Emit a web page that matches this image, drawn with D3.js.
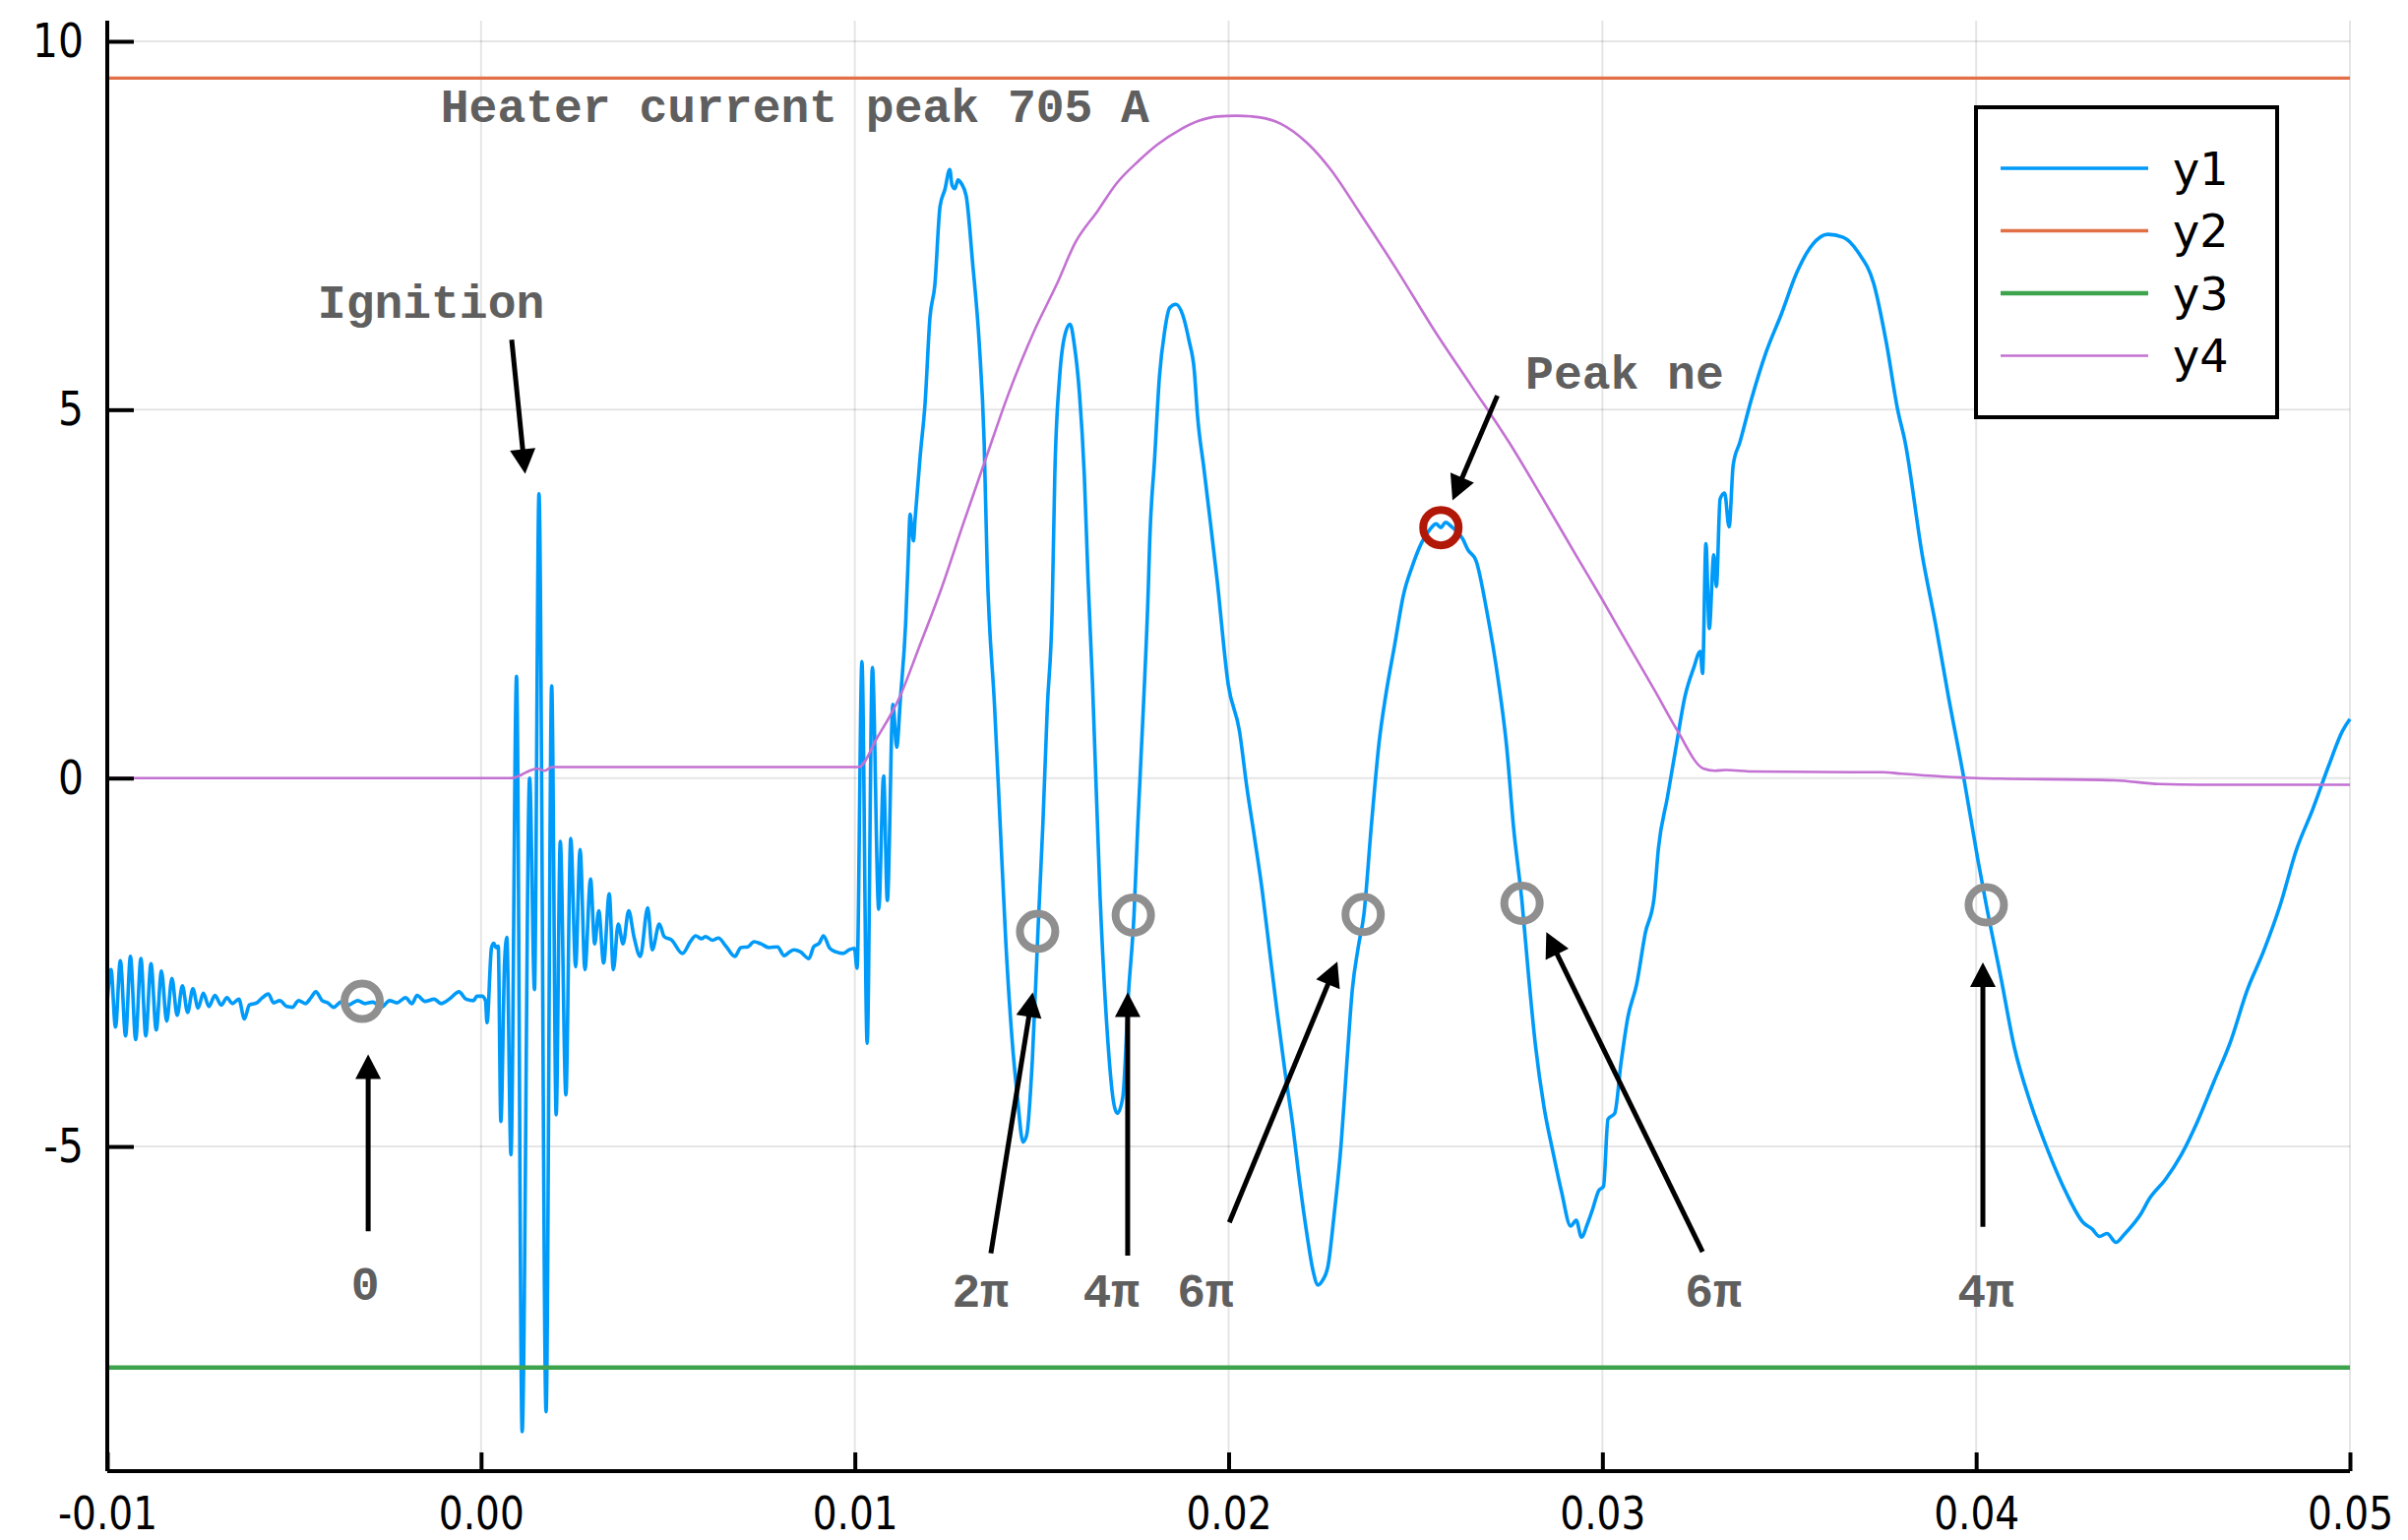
<!DOCTYPE html>
<html>
<head>
<meta charset="utf-8">
<script src="https://cdn.jsdelivr.net/npm/d3@7"></script>
<style>
  html, body { margin: 0; padding: 0; background: #fff; }
  svg { display: block; }
</style>
</head>
<body>
<svg id="chart" width="2447" height="1565"></svg>
<script>
// ---- data -------------------------------------------------------------
// y1: probe signal (time in s, value)
const tY1 = [
  -0.01000,-0.00990,-0.00978,-0.00965,-0.00951,-0.00938,-0.00924,-0.00910,-0.00897,-0.00883,
  -0.00869,-0.00855,-0.00841,-0.00827,-0.00813,-0.00799,-0.00785,-0.00771,-0.00757,-0.00743,
  -0.00728,-0.00712,-0.00695,-0.00680,-0.00665,-0.00648,-0.00633,-0.00620,-0.00600,-0.00585,
  -0.00569,-0.00555,-0.00538,-0.00520,-0.00505,-0.00488,-0.00470,-0.00455,-0.00442,-0.00425,
  -0.00410,-0.00394,-0.00375,-0.00355,-0.00330,-0.00310,-0.00290,-0.00266,-0.00245,-0.00225,
  -0.00202,-0.00185,-0.00171,-0.00150,-0.00125,-0.00107,-0.00085,-0.00059,-0.00040,-0.00020,
  -0.00011, 0.00003,
  0.00012,0.00016,0.00028,0.00034,0.00040,0.00046,0.00053,0.00063,0.00069,0.00080,
  0.00095,0.00110,0.00130,0.00143,0.00155,0.00174,0.00189,0.00201,0.00212,0.00227,
  0.00240,0.00253,0.00265,0.00278,0.00293,0.00304,0.00315,0.00328,0.00343,0.00354,
  0.00367,0.00380,0.00395,0.00409,0.00426,0.00446,0.00458,0.00477,0.00490,0.00510,
  0.00539,0.00560,0.00574,0.00590,0.00600,0.00620,0.00635,0.00655,0.00679,0.00695,
  0.00714,0.00730,0.00749,0.00770,0.00793,0.00811,0.00825,0.00837,0.00855,0.00877,
  0.00890,0.00905,0.00916,0.00933,0.00950,0.00969,0.00985,0.00999,
  0.01006,0.01019,0.01033,0.01047,0.01064,0.01077,0.01087,0.01102,0.01112,0.01122,
  0.01136,0.01143,0.01148,0.01153,0.01157,0.01161,0.01175,0.01188,0.01201,0.01214,
  0.01228,0.01241,0.01254,0.01260,0.01268,0.01276,0.01285,0.01298,0.01315,0.01333,
  0.01346,0.01354,0.01374,0.01389,0.01404,0.01420,0.01435,0.01450,0.01460,0.01475,
  0.01490,0.01503,0.01515,0.01528,0.01535,0.01548,0.01565,0.01576,0.01587,0.01601,
  0.01614,0.01624,0.01636,0.01656,0.01676,0.01692,0.01702,0.01717,0.01732,0.01747,
  0.01757,0.01772,0.01785,0.01789,0.01802,0.01815,0.01829,0.01842,0.01859,0.01877,
  0.01894,0.01908,0.01917,0.01934,0.01952,0.01969,0.01999,0.02029,0.02049,0.02070,
  0.02090,0.02110,0.02130,0.02150,0.02170,0.02190,0.02211,0.02226,0.02239,0.02251,
  0.02266,0.02281,0.02301,0.02317,0.02331,0.02347,0.02362,0.02382,0.02403,0.02420,
  0.02444,0.02468,0.02491,0.02515,0.02538,0.02555,0.02568,0.02580,0.02597,0.02610,
  0.02626,0.02640,0.02662,0.02691,0.02721,0.02744,0.02762,0.02785,0.02803,0.02821,
  0.02844,0.02868,0.02891,0.02915,0.02930,0.02944,0.02960,0.02974,0.02990,0.03003,
  0.03015,0.03033,0.03050,0.03068,0.03092,0.03115,0.03138,0.03150,0.03174,0.03197,
  0.03221,0.03244,0.03262,0.03268,0.03277,0.03286,0.03298,0.03305,0.03315,0.03327,
  0.03339,0.03350,0.03368,0.03397,0.03438,0.03479,0.03520,0.03562,0.03603,0.03644,
  0.03685,0.03726,0.03760,0.03790,0.03810,0.03856,0.03891,0.03926,0.03966,0.04005,
  0.04027,0.04067,0.04102,0.04146,0.04190,0.04242,0.04286,0.04310,0.04330,0.04350,
  0.04374,0.04395,0.04418,0.04440,0.04462,0.04506,0.04549,0.04593,0.04637,0.04681,
  0.04725,0.04769,0.04813,0.04857,0.04900,0.04944,0.04980,0.05000
];
const vY1 = [
  -3.05,-2.60,-3.38,-2.48,-3.50,-2.42,-3.55,-2.45,-3.50,-2.52,
  -3.42,-2.62,-3.30,-2.72,-3.22,-2.82,-3.18,-2.86,-3.12,-2.92,
  -3.10,-2.95,-3.08,-2.98,-3.06,-3.00,-3.27,-3.08,-3.05,-2.98,
  -2.93,-3.05,-3.02,-3.10,-3.11,-3.02,-3.06,-2.98,-2.90,-3.02,
  -3.05,-3.11,-3.04,-3.08,-3.02,-3.06,-3.04,-3.11,-3.02,-3.05,
  -2.98,-3.06,-2.95,-3.03,-3.00,-3.06,-3.00,-2.90,-3.00,-3.02,
  -2.96,-2.96,
  -3.02,-3.32,-2.30,-2.24,-2.30,-2.28,-4.66,-2.50,-2.16,-5.11,
  1.38,-8.87,0.00,-2.87,3.86,-8.60,1.25,-4.57,-0.86,-4.30,
  -0.82,-2.56,-0.97,-2.60,-1.37,-2.25,-1.80,-2.51,-1.57,-2.60,
  -1.98,-2.25,-1.80,-2.15,-2.42,-1.76,-2.33,-1.98,-2.15,-2.20,
  -2.38,-2.22,-2.14,-2.18,-2.15,-2.20,-2.17,-2.28,-2.42,-2.30,
  -2.29,-2.22,-2.25,-2.30,-2.29,-2.41,-2.36,-2.33,-2.36,-2.45,
  -2.29,-2.24,-2.14,-2.31,-2.36,-2.38,-2.33,-2.31,
  -2.58,1.58,-3.60,1.50,-1.78,0.03,-1.66,1.00,0.42,1.08,
  2.10,3.00,3.58,3.35,3.22,3.50,4.38,5.09,6.25,6.69,
  7.76,7.99,8.26,8.05,8.00,8.12,8.07,7.90,7.00,5.89,
  4.56,2.90,0.96,-0.64,-2.23,-3.50,-4.33,-4.94,-4.84,-3.82,
  -2.07,-0.64,0.96,2.30,4.11,5.45,6.07,6.16,5.89,5.22,
  4.11,2.70,1.27,-1.59,-3.50,-4.39,-4.55,-4.33,-2.93,-1.85,
  -0.64,0.96,2.55,3.22,4.33,5.45,6.07,6.38,6.43,6.29,
  5.94,5.54,4.91,4.20,3.44,2.70,1.27,0.64,-0.13,-0.83,
  -1.53,-2.36,-3.18,-3.95,-4.65,-5.48,-6.24,-6.69,-6.88,-6.82,
  -6.62,-5.99,-4.97,-3.82,-2.87,-2.29,-1.85,-0.64,0.50,1.11,
  1.80,2.49,2.87,3.18,3.37,3.45,3.40,3.47,3.41,3.35,
  3.25,3.10,2.95,2.26,1.34,0.42,-0.65,-1.68,-2.71,-3.63,
  -4.47,-5.08,-5.62,-6.08,-6.00,-6.23,-6.05,-5.85,-5.60,-5.54,
  -4.63,-4.55,-3.86,-3.25,-2.79,-2.10,-1.64,-0.95,-0.26,0.42,
  1.11,1.49,1.72,1.42,3.18,2.03,3.03,2.60,3.79,3.87,
  3.41,4.25,4.56,5.11,5.78,6.30,6.86,7.24,7.38,7.34,
  7.13,6.71,5.90,5.00,4.56,3.02,2.10,1.10,0.03,-1.12,
  -1.72,-2.73,-3.65,-4.42,-5.03,-5.64,-6.03,-6.12,-6.22,-6.18,
  -6.30,-6.20,-6.07,-5.92,-5.72,-5.45,-5.11,-4.65,-4.11,-3.57,
  -2.88,-2.35,-1.73,-0.97,-0.43,0.18,0.64,0.80
];

// y2 / y3: constant reference levels
const tFlat = [-0.01, 0.05];
const vY2 = [9.5, 9.5];
const vY3 = [-8.0, -8.0];

// y4: heater current (scaled)
const tY4 = [
  -0.0100,0.0005,0.0008,0.0011,0.0013,0.0015,0.0017,0.0019,0.0021,0.0101,
  0.0106,0.0112,0.0117,0.0123,0.0129,0.0135,0.0141,0.0148,0.0154,0.0159,
  0.0165,0.0170,0.0176,0.0181,0.0187,0.0192,0.0197,0.0202,0.0208,0.0214,
  0.0221,0.0227,0.0235,0.0245,0.0255,0.0265,0.0275,0.0284,0.0293,0.0300,
  0.0307,0.0314,0.0320,0.0327,0.0330,0.0333,0.0340,0.0368,0.0375,0.0380,
  0.0400,0.0437,0.0449,0.0460,0.0500
];
const vY4 = [
  0.00,0.00,0.00,0.05,0.10,0.13,0.10,0.15,0.15,0.15,
  0.55,1.10,1.75,2.55,3.45,4.33,5.20,6.07,6.70,7.27,
  7.70,8.07,8.38,8.60,8.80,8.92,8.98,8.99,8.97,8.88,
  8.62,8.28,7.68,6.90,6.08,5.32,4.56,3.80,3.02,2.42,
  1.80,1.19,0.65,0.13,0.10,0.11,0.09,0.08,0.08,0.06,
  0.00,-0.03,-0.08,-0.09,-0.09
];

const seriesNames  = ["y1", "y2", "y3", "y4"];
const seriesColors = ["#009af9", "#e26f46", "#3da44d", "#c371d2"];
const seriesWidths = [3.6, 3.4, 4.4, 2.6];

const xTicks = [-0.01, 0.00, 0.01, 0.02, 0.03, 0.04, 0.05];
const xTickLabels = ["-0.01", "0.00", "0.01", "0.02", "0.03", "0.04", "0.05"];
const yTicks = [-5, 0, 5, 10];
const yTickLabels = ["-5", "0", "5", "10"];

// phase markers on y1 (time, value, label)
const markT = [-0.00318, 0.01489, 0.01745, 0.02360, 0.02785, 0.04027];
const markV = [-3.03, -2.08, -1.86, -1.85, -1.70, -1.72];
const markLabels = ["0", "2π", "4π", "6π", "6π", "4π"];
const markLabelT = [-0.00310, 0.01336, 0.01686, 0.01938, 0.03297, 0.04026];
const markLabelV = [-7.08, -7.17, -7.17, -7.17, -7.17, -7.17];
// arrow tails and heads for each marker
const markArrowT0 = [-0.00302, 0.01364, 0.01730, 0.02002, 0.03268, 0.04018];
const markArrowV0 = [-6.15, -6.45, -6.48, -6.03, -6.43, -6.09];
const markArrowT1 = [-0.00302, 0.01476, 0.01730, 0.02291, 0.02850, 0.04018];
const markArrowV1 = [-3.75, -2.91, -2.91, -2.49, -2.09, -2.50];

// peak density marker
const peakT = 0.02568, peakV = 3.40;

// text notes with arrows
const noteText = ["Heater current peak 705 A", "Ignition", "Peak ne"];
const noteT = [-0.00108, -0.00437, 0.02794];
const noteV = [8.90, 6.25, 5.29];
const noteArrowT0 = [null, 0.00082, 0.02719];
const noteArrowV0 = [null, 5.95, 5.19];
const noteArrowT1 = [null, 0.00118, 0.02599];
const noteArrowV1 = [null, 4.13, 3.77];

// ---- drawing ----------------------------------------------------------
const svg = d3.select("#chart");
const W = 2447, H = 1565;
const plotL = 109, plotR = 2388, plotT = 21, plotB = 1495;

const x = d3.scaleLinear().domain([-0.01, 0.05]).range([plotL, plotR]);
const y = d3.scaleLinear().domain([-9.406, 10.28]).range([plotB, plotT]);

svg.append("rect").attr("width", W).attr("height", H).attr("fill", "#fff");

// grid
const grid = svg.append("g").attr("stroke", "#000").attr("stroke-opacity", 0.1).attr("stroke-width", 2);
grid.selectAll("line.gx").data(xTicks).join("line")
  .attr("x1", d => x(d)).attr("x2", d => x(d)).attr("y1", plotT).attr("y2", plotB);
grid.selectAll("line.gy").data(yTicks).join("line")
  .attr("x1", plotL).attr("x2", plotR).attr("y1", d => y(d)).attr("y2", d => y(d));

// series
const zip = (a, b) => a.map((v, i) => [v, b[i]]);
const seriesData = [zip(tY1, vY1), zip(tFlat, vY2), zip(tFlat, vY3), zip(tY4, vY4)];
const smooth = d3.line().x(d => x(d[0])).y(d => y(d[1])).curve(d3.curveMonotoneX);
svg.append("g").selectAll("path").data(seriesData).join("path")
  .attr("d", smooth)
  .attr("fill", "none")
  .attr("stroke", (d, i) => seriesColors[i])
  .attr("stroke-width", (d, i) => seriesWidths[i])
  .attr("stroke-linejoin", "round");

// axes
const xAxis = d3.axisBottom(x).tickValues(xTicks).tickFormat((d, i) => xTickLabels[i])
  .tickSizeInner(-19).tickSizeOuter(0).tickPadding(26);
const yAxis = d3.axisLeft(y).tickValues(yTicks).tickFormat((d, i) => yTickLabels[i])
  .tickSizeInner(-27).tickSizeOuter(0).tickPadding(24);

const gx = svg.append("g").attr("transform", `translate(0,${plotB})`).call(xAxis);
const gy = svg.append("g").attr("transform", `translate(${plotL},0)`).call(yAxis);
[gx, gy].forEach(g => {
  g.select(".domain").attr("stroke", "#000").attr("stroke-width", 4);
  g.selectAll(".tick line").attr("stroke", "#000").attr("stroke-width", 4);
  g.selectAll(".tick text").attr("fill", "#000")
    .style("font-family", "'DejaVu Sans', sans-serif");
});
gx.selectAll(".tick text").style("font-size", "46px");
gy.selectAll(".tick text").style("font-size", "48px");
gy.select(".domain").attr("d", `M0,${plotT}V${plotB}`);
gx.select(".domain").attr("d", `M${plotL},0H${plotR}`);
// narrow tick labels
svg.selectAll(".tick text").each(function () {
  const w = this.getComputedTextLength();
  d3.select(this).attr("textLength", w * 0.85).attr("lengthAdjust", "spacingAndGlyphs");
});

// arrows
const ann = svg.append("g");
function arrow(t0, v0, t1, v1) {
  const x0 = x(t0), y0 = y(v0), x1 = x(t1), y1 = y(v1);
  const dx = x1 - x0, dy = y1 - y0, len = Math.hypot(dx, dy);
  const ux = dx / len, uy = dy / len;
  const hl = 25, hw = 13;
  const bx = x1 - ux * hl, by = y1 - uy * hl;
  ann.append("line").attr("x1", x0).attr("y1", y0).attr("x2", bx + ux * 2).attr("y2", by + uy * 2)
    .attr("stroke", "#000").attr("stroke-width", 5);
  ann.append("path")
    .attr("d", `M${x1},${y1}L${bx - uy * hw},${by + ux * hw}L${bx + uy * hw},${by - ux * hw}Z`)
    .attr("fill", "#000");
}

markT.forEach((t, i) => arrow(markArrowT0[i], markArrowV0[i], markArrowT1[i], markArrowV1[i]));
noteText.forEach((s, i) => { if (noteArrowT0[i] !== null) arrow(noteArrowT0[i], noteArrowV0[i], noteArrowT1[i], noteArrowV1[i]); });

// marker rings
ann.selectAll("circle.mark").data(markT).join("circle")
  .attr("cx", (d) => x(d)).attr("cy", (d, i) => y(markV[i])).attr("r", 18)
  .attr("fill", "none").attr("stroke", "#8f8f8f").attr("stroke-width", 8);
ann.append("circle").attr("cx", x(peakT)).attr("cy", y(peakV)).attr("r", 18)
  .attr("fill", "none").attr("stroke", "#b21807").attr("stroke-width", 8);

// annotation text
const annFont = "'Liberation Mono', 'DejaVu Sans Mono', monospace";
ann.selectAll("text.note").data(noteText).join("text")
  .attr("x", (d, i) => x(noteT[i])).attr("y", (d, i) => y(noteV[i]))
  .attr("fill", "#5f5f5f").style("font-family", annFont).style("font-weight", "bold")
  .style("font-size", "48px").text(d => d);
ann.selectAll("text.mlab").data(markLabels).join("text")
  .attr("x", (d, i) => x(markLabelT[i])).attr("y", (d, i) => y(markLabelV[i]))
  .attr("text-anchor", "middle")
  .attr("fill", "#5f5f5f").style("font-family", annFont).style("font-weight", "bold")
  .style("font-size", "48px").text(d => d);

// legend
const lg = svg.append("g");
lg.append("rect").attr("x", 2008).attr("y", 109).attr("width", 306).attr("height", 315)
  .attr("fill", "#fff").attr("stroke", "#000").attr("stroke-width", 4);
seriesNames.forEach((n, i) => {
  const ly = 171 + i * 63.5;
  lg.append("line").attr("x1", 2033).attr("x2", 2183).attr("y1", ly).attr("y2", ly)
    .attr("stroke", seriesColors[i]).attr("stroke-width", seriesWidths[i]);
  lg.append("text").attr("x", 2208).attr("y", ly).attr("dy", "0.36em")
    .style("font-family", "'DejaVu Sans', sans-serif").style("font-size", "46px")
    .attr("fill", "#000").text(n);
});
</script>
</body>
</html>
